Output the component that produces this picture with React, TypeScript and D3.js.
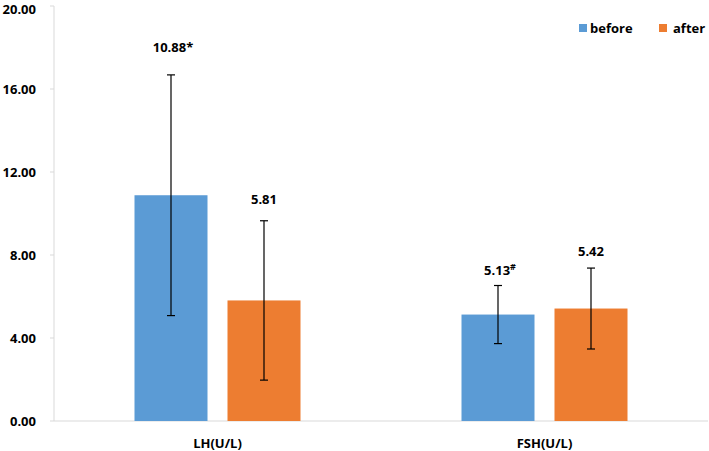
import React from "react";
import * as d3 from "d3";

const categories = ["LH(U/L)", "FSH(U/L)"];
const seriesNames = ["before", "after"];
const beforeValues = [10.88, 5.13];
const afterValues = [5.81, 5.42];
const beforeErr = [5.8, 1.4];
const afterErr = [3.84, 1.95];
const beforeLabels = ["10.88*", "5.13#"];
const afterLabels = ["5.81", "5.42"];
const yTicks = [0, 4, 8, 12, 16, 20];

const W = 709;
const H = 451;
const colors = ["#5B9BD5", "#ED7D31"];
const FONT = "Open Sans, Liberation Sans, sans-serif";

export default function App() {
  const left = 54;
  const right = 708;
  const y = d3.scaleLinear().domain([0, 20]).range([421, 6]);
  const x0 = d3.scaleBand().domain(categories).range([left, right]).paddingInner(0).paddingOuter(0);
  const bw = 73;
  const gap = 20;
  const series = [
    { name: seriesNames[0], vals: beforeValues, errs: beforeErr, labels: beforeLabels },
    { name: seriesNames[1], vals: afterValues, errs: afterErr, labels: afterLabels },
  ];
  const labelOffsets = [[23, 11], [17, 12]];

  return (
    <svg width={W} height={H} style={{ position: "absolute", left: 0, top: 0, fontFamily: FONT }}>
      <rect width={W} height={H} fill="#fff" />
      {/* y axis */}
      <line x1={left} x2={left} y1={y(20)} y2={y(0)} stroke="#d9d9d9" strokeWidth={1} />
      {yTicks.map((t) => (
        <g key={t}>
          <line x1={left - 4} x2={left} y1={y(t)} y2={y(t)} stroke="#d9d9d9" />
          <text x={36} y={Math.max(y(t), 9.5)} dy="0.35em" textAnchor="end" fontSize={13} fontWeight="bold" fill="#000">
            {t.toFixed(2)}
          </text>
        </g>
      ))}
      {/* x axis */}
      <line x1={left} x2={right} y1={y(0)} y2={y(0)} stroke="#d9d9d9" strokeWidth={1} />
      {categories.map((c, ci) => {
        const cx = (x0(c) as number) + x0.bandwidth() / 2;
        return (
          <g key={c}>
            {series.map((s, si) => {
              const bx = cx - gap / 2 - bw + si * (bw + gap);
              const v = s.vals[ci];
              const e = s.errs[ci];
              const mx = bx + bw / 2;
              const lab = s.labels[ci];
              const suf = /[*#]$/.test(lab) ? lab.slice(-1) : "";
              const main = suf ? lab.slice(0, -1) : lab;
              return (
                <g key={s.name}>
                  <rect x={bx} y={y(v)} width={bw} height={y(0) - y(v)} fill={colors[si]} />
                  <line x1={mx} x2={mx} y1={y(v + e)} y2={y(v - e)} stroke="#000" strokeWidth={1.2} />
                  <line x1={mx - 4} x2={mx + 4} y1={y(v + e)} y2={y(v + e)} stroke="#000" strokeWidth={1.2} />
                  <line x1={mx - 4} x2={mx + 4} y1={y(v - e)} y2={y(v - e)} stroke="#000" strokeWidth={1.2} />
                  <text x={suf ? mx + 2 : mx} y={y(v + e) - labelOffsets[si][ci]} textAnchor="middle" fontSize={13} fontWeight="bold" fill="#000">
                    {main}
                    {suf ? (
                      <tspan fontSize={suf === "#" ? 9 : 13} dy={suf === "#" ? -5 : 0}>
                        {suf}
                      </tspan>
                    ) : null}
                  </text>
                </g>
              );
            })}
            <text x={cx} y={448} textAnchor="middle" fontSize={13} fontWeight="bold" fill="#000">
              {c}
            </text>
          </g>
        );
      })}
      {/* legend */}
      {[{ x: 579, tx: 590 }, { x: 659, tx: 673 }].map((p, i) => (
        <g key={i}>
          <rect x={p.x} y={24} width={8} height={8} fill={colors[i]} />
          <text x={p.tx} y={28} dy="0.35em" fontSize={13} fontWeight="bold" fill="#000">
            {seriesNames[i]}
          </text>
        </g>
      ))}
    </svg>
  );
}
